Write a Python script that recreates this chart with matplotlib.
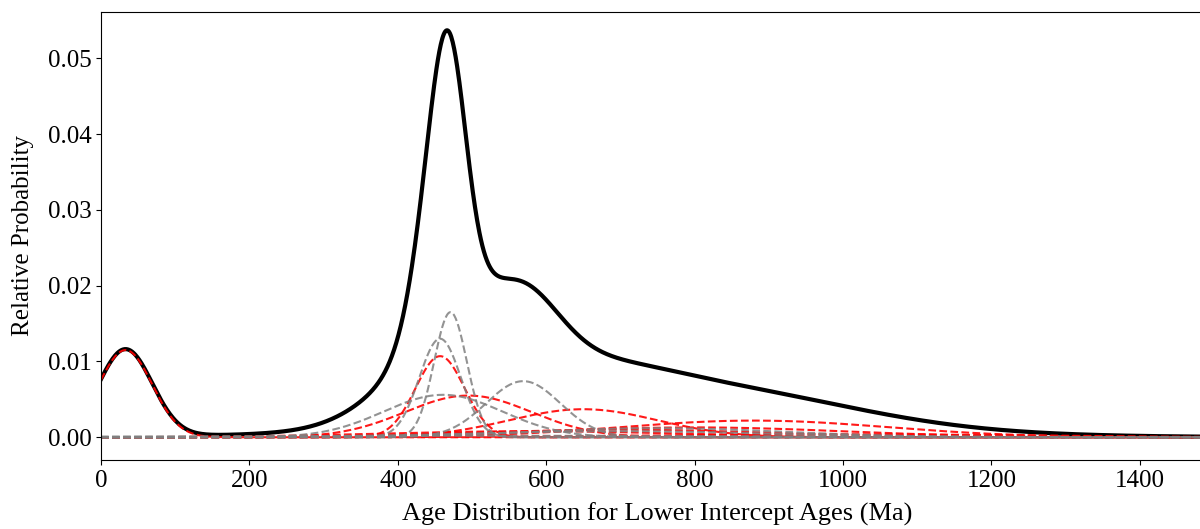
import numpy as np
import matplotlib
matplotlib.use("Agg")
import matplotlib.pyplot as plt

plt.rcParams['font.family'] = ['Liberation Serif', 'DejaVu Serif']

# Gaussian components: (mean Ma, sigma Ma, peak height)
red_mu = [33, 457, 495, 650, 880, 800, 700, 580, 1000]
red_sigma = [36, 33, 85, 100, 180, 200, 200, 200, 250]
red_amp = [0.0115, 0.0107, 0.0055, 0.0037, 0.0022, 0.0013, 0.0010, 0.0008, 0.0004]

gray_mu = [471, 457, 461, 569, 750, 700, 500]
gray_sigma = [22, 28, 80, 50, 170, 200, 400]
gray_amp = [0.0165, 0.0130, 0.0056, 0.0074, 0.0012, 0.0008, 0.0002]

x = np.linspace(0, 1500, 1501)

def gauss(mu, s, a):
    return a * np.exp(-(x - mu) ** 2 / (2 * s ** 2))

reds = [gauss(m, s, a) for m, s, a in zip(red_mu, red_sigma, red_amp)]
grays = [gauss(m, s, a) for m, s, a in zip(gray_mu, gray_sigma, gray_amp)]
total = np.sum(reds, axis=0) + np.sum(grays, axis=0)

fig = plt.figure(figsize=(12, 5.29), dpi=100)
ax = fig.add_axes([101/1200, 1 - 460/529, (1214-101)/1200, (460-12)/529])

ax.plot(x, total, color='black', lw=3)
for r in reds:
    ax.plot(x, r, color='red', ls='--', lw=1.5, alpha=0.9)
for g in grays:
    ax.plot(x, g, color='gray', ls='--', lw=1.5, alpha=0.85)

ax.set_xlim(0, 1500)
ax.set_ylim(-0.003, 0.0561)
ax.set_xticks([0, 200, 400, 600, 800, 1000, 1200, 1400])
ax.set_yticks([0.00, 0.01, 0.02, 0.03, 0.04, 0.05])
ax.set_yticklabels(['0.00', '0.01', '0.02', '0.03', '0.04', '0.05'])
ax.tick_params(labelsize=18)
ax.set_xlabel('Age Distribution for Lower Intercept Ages (Ma)', fontsize=19, labelpad=8)
ax.set_ylabel('Relative Probability', fontsize=18, labelpad=10)

fig.savefig('out.png', dpi=100)
